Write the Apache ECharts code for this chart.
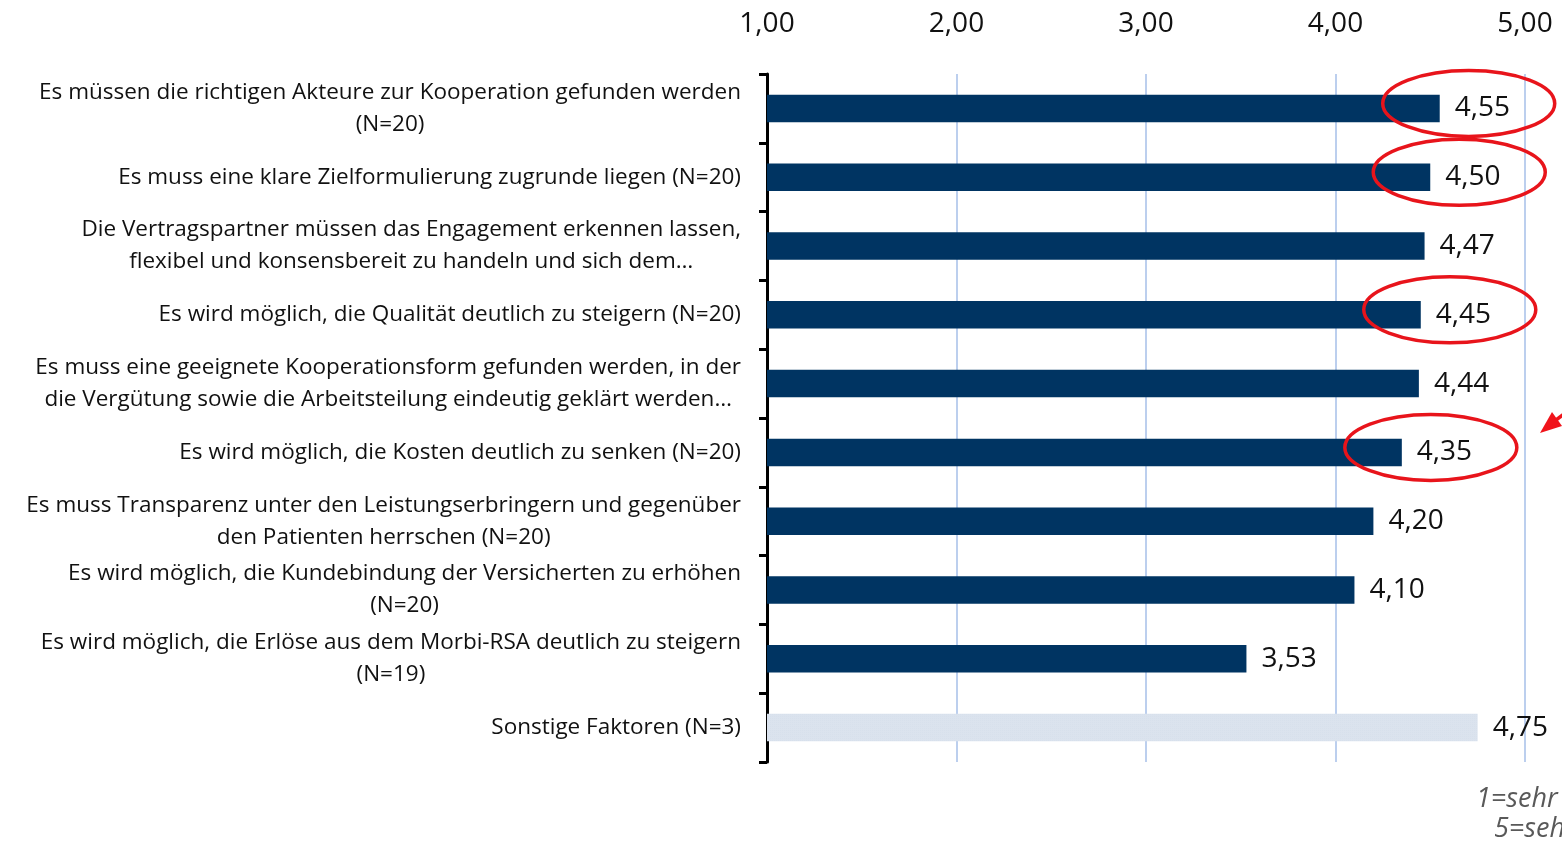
<!DOCTYPE html>
<html>
<head>
<meta charset="utf-8">
<script src="https://cdn.jsdelivr.net/npm/echarts@6/dist/echarts.min.js"></script>
<style>
  html, body { margin: 0; padding: 0; background: #fff; }
  #chart { width: 1562px; height: 847px; }
</style>
</head>
<body>
<div id="chart"></div>
<script>
var categories = [
  'Es müssen die richtigen Akteure zur Kooperation gefunden werden\n(N=20)',
  'Es muss eine klare Zielformulierung zugrunde liegen (N=20)',
  'Die Vertragspartner müssen das Engagement erkennen lassen,\nflexibel und konsensbereit zu handeln und sich dem…',
  'Es wird möglich, die Qualität deutlich zu steigern (N=20)',
  'Es muss eine geeignete Kooperationsform gefunden werden, in der\ndie Vergütung sowie die Arbeitsteilung eindeutig geklärt werden…',
  'Es wird möglich, die Kosten deutlich zu senken (N=20)',
  'Es muss Transparenz unter den Leistungserbringern und gegenüber\nden Patienten herrschen (N=20)',
  'Es wird möglich, die Kundebindung der Versicherten zu erhöhen\n(N=20)',
  'Es wird möglich, die Erlöse aus dem Morbi-RSA deutlich zu steigern\n(N=19)',
  'Sonstige Faktoren (N=3)'
];
var values = [4.55, 4.50, 4.47, 4.45, 4.44, 4.35, 4.20, 4.10, 3.53, 4.75];
// index of the "Sonstige" bar, drawn in light pattern colour
var otherIndex = 9;
// bars circled in red
var circled = [0, 1, 3, 5];

var axisMin = 1, axisMax = 5, axisStep = 1;

var FONT = 'Open Sans';

function fmt(v) { return v.toFixed(2).replace('.', ','); }

var chart = echarts.init(document.getElementById('chart'));

var barData = values.map(function (v, i) {
  if (i === otherIndex) {
    return {
      value: v,
      itemStyle: {
        color: '#dbe3ee',
        decal: { symbol: 'rect', symbolSize: 0.5, dashArrayX: [1, 1], dashArrayY: [1, 1], color: 'rgba(180,195,215,0.3)' }
      }
    };
  }
  return v;
});

var circleData = circled.map(function (i) { return [values[i], i]; });

chart.setOption({
  animation: false,
  grid: { left: 767, right: 37, top: 74, bottom: 85, containLabel: false },
  xAxis: {
    type: 'value',
    position: 'top',
    min: axisMin,
    max: axisMax,
    interval: axisStep,
    axisLine: { show: false },
    axisTick: { show: false },
    axisLabel: {
      margin: 36,
      fontSize: 28,
      fontFamily: FONT,
      color: '#111',
      formatter: function (v) { return fmt(v); }
    },
    splitLine: { lineStyle: { color: '#bccfee', width: 2 } }
  },
  yAxis: {
    type: 'category',
    inverse: true,
    data: categories,
    axisLine: { show: true, lineStyle: { color: '#000', width: 3 } },
    axisTick: { show: true, length: 8, lineStyle: { color: '#000', width: 3 } },
    axisLabel: {
      margin: 26,
      formatter: function (v) {
        return v.split('\n').map(function (l) { return '{c|' + l + '}'; }).join('\n');
      },
      rich: {
        c: { align: 'center', fontSize: 22.5, lineHeight: 32, fontFamily: FONT, color: '#111' }
      }
    }
  },
  series: [
    {
      type: 'bar',
      data: barData,
      barWidth: '40%',
      itemStyle: { color: '#003462' },
      label: {
        show: true,
        position: 'right',
        distance: 15,
        fontSize: 28,
        fontFamily: FONT,
        color: '#111',
        formatter: function (p) { return fmt(p.value); }
      }
    },
    {
      type: 'custom',
      data: circleData,
      silent: true,
      z: 5,
      renderItem: function (params, api) {
        var p = api.coord([api.value(0), api.value(1)]);
        return {
          type: 'ellipse',
          shape: { cx: p[0] + 29, cy: p[1] - 5, rx: 86, ry: 33 },
          style: { fill: null, stroke: '#e8141b', lineWidth: 3.5 }
        };
      }
    }
  ],
  graphic: [
    {
      type: 'line',
      shape: { x1: 1548, y1: 426, x2: 1580, y2: 402 },
      style: { stroke: '#f0141b', lineWidth: 3.5 }
    },
    {
      type: 'polygon',
      shape: { points: [[1540, 433], [1552, 412], [1562, 426]] },
      style: { fill: '#f0141b' }
    },
    {
      type: 'text',
      left: 1476,
      top: 786,
      style: { text: '1=sehr unwichtig', font: 'italic 27px "Open Sans"', fill: '#595959' }
    },
    {
      type: 'text',
      left: 1494,
      top: 816,
      style: { text: '5=sehr wichtig', font: 'italic 27px "Open Sans"', fill: '#595959' }
    }
  ]
});
</script>
</body>
</html>
